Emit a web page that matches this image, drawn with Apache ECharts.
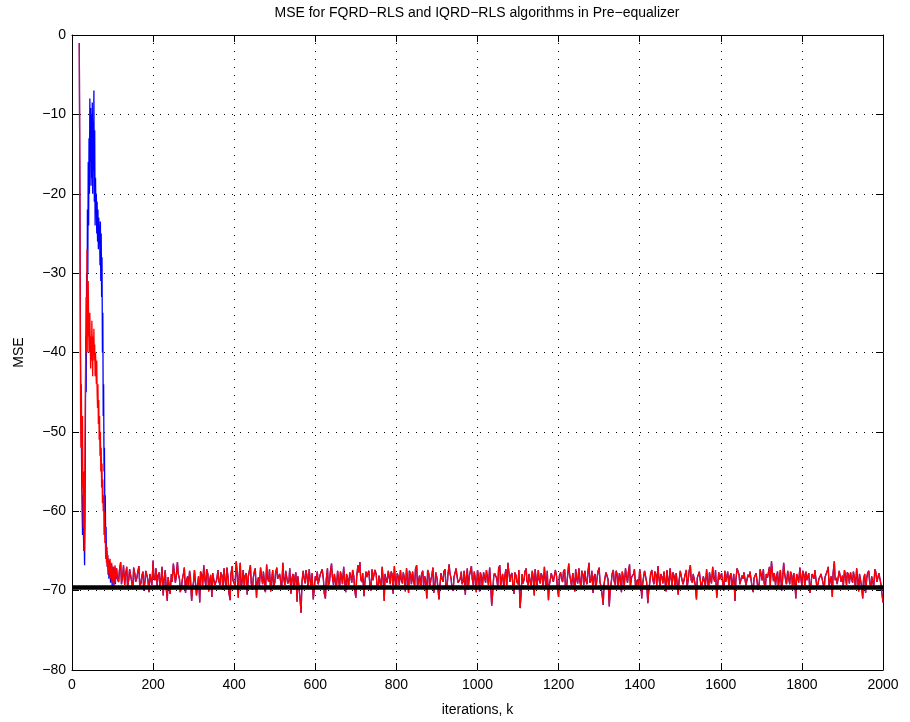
<!DOCTYPE html>
<html><head><meta charset="utf-8">
<script src="https://cdn.jsdelivr.net/npm/echarts@6/dist/echarts.min.js"></script>
<style>html,body{margin:0;padding:0;background:#fff}#c{width:910px;height:722px}</style>
</head><body><div id="c"></div>
<script>
// ---- data ----
const titleText = 'MSE for FQRD\u2212RLS and IQRD\u2212RLS algorithms in Pre\u2212equalizer';
const xName = 'iterations, k';
const yName = 'MSE';
const xTicks = [0, 200, 400, 600, 800, 1000, 1200, 1400, 1600, 1800, 2000];
const yTicks = [-80, -70, -60, -50, -40, -30, -20, -10, 0];

// transient part, one value per iteration starting at iteration 18
const transientStart = 18;
const fqrdTransient = [ // blue
  -1, -15, -28, -40, -47, -50, -56, -60, -63, -58,
  -62, -65, -63, -66.8, -62, -50, -38, -45, -30, -40,
  -22, -30, -16, -24, -13, -20, -8, -16, -9.2, -19,
  -10, -18, -8.5, -20, -11, -17, -7, -21, -12, -24,
  -18, -22, -20, -25, -21, -26, -22, -27, -23, -25,
  -24, -29, -23.5, -31, -25, -33, -28, -40, -35, -48,
  -44, -55, -52, -60, -58, -63, -62, -66, -64.5, -67,
  -65.5, -68, -66, -68.5, -66.2, -68, -66.5, -69, -67, -68.3,
  -66.8, -69.5, -67.2, -68.4, -67, -69.8, -67.5, -68.8, -67, -69.2,
  -67.6, -68.5
];
const iqrdTransient = [ // red
  -1, -14, -30, -46, -52, -44, -50, -57, -48, -58,
  -62, -55, -65, -60, -52, -45, -38, -33, -40, -27,
  -34, -38, -31, -36, -40, -37, -35, -39, -42, -38,
  -41, -36, -39, -43, -38, -40, -37, -41, -39, -43,
  -40, -42, -44, -41, -45, -47, -44, -49, -46, -51,
  -48, -53, -50, -55, -52, -57, -54, -59, -56, -60,
  -58, -63, -60, -64, -62, -66, -64, -66.5, -65, -67,
  -65.5, -67.5, -66, -68, -66.5, -67.5, -66, -68.5, -67, -68,
  -66.5, -69, -67.5, -68, -67, -69.5, -67.5, -68.5, -66.8, -69,
  -67.8, -68.2
];

// steady state, shared by both algorithms (they coincide)
// values at iterations 110, 115, 120, ... 2000
const steadyStartA = 110;
const steadyStep = 5;
const steadyMSE = [
  -67.2, -68.9, -66.4, -68.1, -69.3, -67.0, -68.6, -67.5, -69.8, -67.9,
  -68.4, -66.9, -69.1, -67.6, -68.8, -67.3, -70.2, -67.8, -66.2, -68.7,
  -69.4, -67.7, -68.3, -70.6, -67.4, -71.3, -68.1, -67.9, -66.6, -69.0,
  -66.4, -68.5, -69.6, -67.8, -70.3, -68.2, -67.5, -71.3, -68.8, -67.3,
  -69.2, -71.5, -68.0, -66.8, -69.4, -67.9, -68.6, -70.8, -67.6, -68.9,
  -67.4, -69.3, -68.1, -67.2, -69.7, -68.4, -71.2, -66.9, -68.5, -66.3,
  -70.9, -66.5, -68.7, -69.5, -67.8, -68.2, -66.8, -69.9, -67.5, -70.9,
  -68.3, -67.1, -69.2, -67.7, -66.7, -68.9, -70.1, -67.4, -69.0, -67.1,
  -68.6, -67.9, -66.5, -69.3, -67.6, -68.8, -70.4, -67.9, -68.2, -71.4,
  -68.0, -72.8, -67.5, -69.1, -68.4, -67.3, -69.8, -71.1, -68.2, -67.6,
  -69.4, -67.9, -68.6, -71.0, -67.2, -68.9, -66.6, -69.3, -68.0, -67.5,
  -69.7, -68.3, -67.0, -70.2, -68.6, -67.7, -69.0, -68.2, -70.9, -66.8,
  -66.4, -68.9, -70.7, -67.6, -68.4, -69.5, -67.3, -68.8, -67.9, -69.9,
  -68.2, -67.0, -71.3, -68.7, -67.5, -69.2, -68.0, -66.9, -69.6, -68.3,
  -67.4, -69.1, -68.5, -67.2, -70.3, -68.0, -67.6, -69.4, -66.8, -68.7,
  -69.8, -67.5, -68.2, -71.0, -67.9, -68.6, -67.1, -69.3, -68.4, -71.1,
  -67.8, -68.9, -67.3, -69.6, -66.7, -68.5, -70.0, -67.7, -68.3, -69.2,
  -67.6, -68.8, -70.5, -67.2, -68.1, -66.9, -69.4, -68.6, -67.4, -70.1,
  -68.3, -67.7, -69.0, -68.5, -67.1, -71.9, -68.2, -67.6, -69.5, -66.8,
  -68.4, -69.7, -67.3, -66.5, -68.9, -67.8, -70.4, -68.1, -69.2, -72.2,
  -67.9, -68.6, -67.2, -69.3, -68.0, -67.5, -70.6, -68.7, -67.4, -69.1,
  -68.3, -67.0, -69.8, -71.2, -68.5, -67.6, -69.0, -68.2, -70.8, -67.7,
  -68.9, -67.3, -69.4, -66.6, -68.1, -67.8, -70.1, -68.6, -67.2, -69.5,
  -68.0, -67.5, -69.2, -66.5, -68.7, -70.3, -67.9, -68.4, -67.1, -69.6,
  -71.8, -68.2, -67.6, -72.0, -68.9, -67.4, -69.3, -68.1, -67.8, -70.2,
  -68.5, -67.2, -69.0, -66.7, -68.3, -67.9, -69.7, -68.6, -67.3, -71.0,
  -68.1, -67.7, -71.6, -68.9, -67.4, -69.2, -68.0, -66.9, -69.5, -68.3,
  -67.6, -70.1, -68.7, -67.2, -69.4, -68.2, -67.8, -70.5, -67.5, -68.8,
  -69.3, -67.4, -68.5, -66.8, -69.0, -67.9, -71.1, -68.3, -67.6, -69.6,
  -68.1, -67.3, -69.8, -68.6, -67.0, -68.9, -70.9, -67.7, -68.4, -69.2,
  -67.5, -68.2, -69.5, -67.8, -68.7, -71.3, -67.2, -68.0, -69.4, -68.5,
  -67.9, -69.1, -68.3, -67.4, -70.2, -68.6, -67.7, -69.0, -68.1, -67.3,
  -69.6, -68.4, -67.0, -66.3, -68.8, -69.3, -67.6, -68.2, -70.0, -66.5,
  -68.7, -67.5, -69.2, -68.1, -67.8, -71.0, -68.4, -67.1, -69.5, -68.0,
  -67.6, -68.9, -70.3, -67.9, -68.5, -67.3, -69.1, -68.2, -67.7, -69.8,
  -68.3, -67.0, -68.6, -70.8, -66.3, -68.4, -69.4, -67.6, -68.1, -67.4,
  -69.3, -68.0, -67.7, -69.0, -68.5, -67.2, -70.1, -68.8, -71.0, -67.9,
  -68.4, -67.5, -69.6, -68.2, -67.3, -68.9, -67.8, -69.2, -71.5
];
// values at iterations 112, 117, 122, ... 1997
const steadyStartB = 112;
const steadyMSE2 = [
  -68.5, -67.4, -69.2, -66.8, -68.0, -69.6, -67.3, -68.8, -67.1, -68.9,
  -67.7, -69.4, -68.2, -70.0, -67.5, -68.6, -67.9, -69.3, -68.4, -67.2,
  -68.1, -69.8, -67.0, -68.7, -69.5, -68.3, -70.4, -68.9, -67.6, -68.2,
  -67.9, -70.2, -68.6, -67.1, -68.8, -69.7, -68.3, -69.9, -67.4, -70.6,
  -68.2, -67.6, -69.5, -68.4, -67.3, -70.1, -68.0, -67.8, -69.3, -68.6,
  -68.8, -67.7, -69.9, -68.5, -67.1, -70.3, -67.9, -68.7, -69.4, -67.5,
  -68.3, -69.7, -67.4, -68.1, -70.5, -67.6, -69.1, -68.4, -67.2, -68.9,
  -69.5, -68.0, -67.6, -70.2, -68.3, -67.3, -68.8, -69.6, -67.8, -68.5,
  -67.9, -69.8, -68.4, -67.5, -69.1, -67.2, -68.6, -69.9, -67.7, -68.2,
  -70.8, -69.0, -68.3, -67.4, -69.6, -68.5, -67.8, -70.0, -68.7, -69.2,
  -68.0, -67.3, -70.3, -68.6, -69.4, -67.7, -68.2, -67.9, -69.7, -68.4,
  -67.6, -69.2, -68.5, -67.9, -69.6, -68.1, -67.4, -69.8, -68.3, -67.7,
  -68.6, -67.8, -69.1, -68.3, -67.5, -70.0, -68.7, -67.4, -69.2, -68.1,
  -69.5, -68.4, -67.9, -69.0, -68.2, -67.6, -70.4, -68.5, -67.8, -69.3,
  -68.6, -67.7, -70.1, -68.3, -67.5, -69.2, -68.8, -67.3, -69.5, -68.1,
  -67.9, -69.4, -68.6, -67.4, -69.8, -68.2, -70.3, -67.7, -68.5, -69.6,
  -68.4, -67.6, -69.3, -68.0, -67.8, -69.7, -68.3, -67.2, -69.0, -68.6,
  -69.2, -67.5, -68.4, -69.9, -67.9, -68.5, -67.6, -70.2, -68.1, -67.7,
  -69.6, -68.2, -67.4, -69.3, -68.7, -70.6, -67.8, -68.4, -67.2, -69.4,
  -67.9, -68.3, -69.6, -67.5, -68.1, -69.2, -67.7, -68.9, -67.4, -70.9,
  -69.1, -67.6, -68.8, -67.9, -69.5, -68.2, -67.3, -69.4, -68.6, -67.8,
  -69.7, -68.4, -67.5, -69.3, -67.8, -68.9, -67.4, -69.6, -68.1, -68.5,
  -67.6, -69.8, -68.2, -67.9, -69.4, -68.5, -67.3, -69.1, -68.7, -67.5,
  -69.3, -68.6, -67.8, -69.0, -67.5, -68.3, -69.7, -67.6, -68.9, -70.4,
  -69.2, -67.7, -68.6, -70.1, -67.9, -68.8, -67.5, -69.6, -68.3, -67.6,
  -69.4, -68.1, -67.7, -69.5, -68.4, -67.3, -68.9, -69.8, -68.0, -69.3,
  -67.5, -68.9, -70.2, -67.8, -68.5, -67.6, -69.4, -68.2, -67.9, -69.1,
  -68.6, -67.4, -69.7, -68.3, -67.7, -69.5, -68.0, -68.8, -67.3, -69.2,
  -68.0, -69.6, -67.5, -68.7, -67.9, -69.3, -68.4, -67.6, -69.8, -68.2,
  -69.4, -68.5, -67.7, -69.1, -68.3, -67.4, -69.5, -68.6, -67.8, -70.0,
  -68.9, -67.6, -68.3, -69.7, -67.9, -68.8, -67.5, -69.2, -68.1, -67.7,
  -69.3, -68.0, -67.6, -69.5, -68.4, -67.8, -69.9, -67.3, -68.7, -69.1,
  -67.9, -68.6, -69.4, -67.5, -67.8, -68.3, -69.6, -67.4, -68.9, -67.7,
  -69.2, -68.3, -67.6, -69.7, -68.5, -67.9, -69.0, -68.2, -67.5, -69.4,
  -68.7, -67.8, -69.3, -68.1, -67.4, -69.6, -68.5, -67.9, -69.0, -68.3,
  -67.6, -69.5, -68.2, -67.8, -68.7, -69.2, -67.5, -68.9, -69.6, -68.0,
  -67.7, -69.1, -68.4, -67.6, -69.8, -68.3, -67.9, -69.4, -68.6, -70.3,
  -67.8, -68.9, -68.2, -69.5, -67.6, -69.0, -68.4, -70.2
];

// theoretical MSE level (thick black line)
const mmseLevel = -69.6;
const mmseRange = [0, 2000];

// ---- build series ----
function build(transient) {
  const pts = transient.map((v, i) => [transientStart + i, v]);
  const steady = [];
  steadyMSE.forEach((v, i) => steady.push([steadyStartA + steadyStep * i, v]));
  steadyMSE2.forEach((v, i) => steady.push([steadyStartB + steadyStep * i, v]));
  steady.sort((a, b) => a[0] - b[0]);
  return pts.concat(steady);
}
const blueData = build(fqrdTransient);
const redData = build(iqrdTransient);
const blackData = mmseRange.map(x => [x, mmseLevel]);

const FONT = 'Liberation Sans, Arial, Helvetica, sans-serif';
const minus = v => String(v).replace('-', '\u2212');

const chart = echarts.init(document.getElementById('c'), null, {renderer: 'canvas'});
const tickCommon = {show: true, inside: true, length: 7, lineStyle: {color: '#000', width: 1}};
const lineCommon = {show: true, onZero: false, lineStyle: {color: '#000', width: 1}};
const dotted = {show: true, lineStyle: {color: '#000', width: 1, type: [1, 7]}};

chart.setOption({
  animation: false,
  backgroundColor: '#fff',
  grid: {left: 72, right: 27, top: 35, bottom: 52, containLabel: false},
  graphic: [{
    type: 'text', x: 477, y: 13,
    style: {text: titleText, align: 'center', verticalAlign: 'middle',
            font: '14px ' + FONT, fill: '#000'}
  }],
  xAxis: [{
    type: 'value', min: xTicks[0], max: xTicks[xTicks.length - 1], interval: 200,
    position: 'bottom',
    axisLine: lineCommon, axisTick: tickCommon, splitLine: dotted,
    axisLabel: {color: '#000', fontSize: 14, fontFamily: FONT, margin: 8, formatter: minus},
    name: xName, nameLocation: 'middle', nameGap: 33,
    nameTextStyle: {color: '#000', fontSize: 14, fontFamily: FONT}
  }, {
    type: 'value', min: xTicks[0], max: xTicks[xTicks.length - 1], interval: 200,
    position: 'top',
    axisLine: lineCommon, axisTick: tickCommon, splitLine: {show: false},
    axisLabel: {show: false}
  }],
  yAxis: [{
    type: 'value', min: yTicks[0], max: yTicks[yTicks.length - 1], interval: 10,
    position: 'left',
    axisLine: lineCommon, axisTick: tickCommon, splitLine: dotted,
    axisLabel: {color: '#000', fontSize: 14, fontFamily: FONT, margin: 6, formatter: minus},
    name: yName, nameLocation: 'middle', nameGap: 46, nameRotate: 90,
    nameTextStyle: {color: '#000', fontSize: 14, fontFamily: FONT}
  }, {
    type: 'value', min: yTicks[0], max: yTicks[yTicks.length - 1], interval: 10,
    position: 'right',
    axisLine: lineCommon, axisTick: tickCommon, splitLine: {show: false},
    axisLabel: {show: false}
  }],
  series: [{
    name: 'FQRD-RLS', type: 'line', data: blueData, showSymbol: false, symbol: 'none',
    lineStyle: {color: '#0000ff', width: 1.3}, itemStyle: {color: '#0000ff'}, z: 2
  }, {
    name: 'IQRD-RLS', type: 'line', data: redData, showSymbol: false, symbol: 'none',
    lineStyle: {color: '#ff0000', width: 1.3}, itemStyle: {color: '#ff0000'}, z: 3
  }, {
    name: 'MMSE', type: 'line', data: blackData, showSymbol: false, symbol: 'none',
    lineStyle: {color: '#000', width: 4.5}, itemStyle: {color: '#000'}, z: 4
  }]
});
</script>
</body></html>
